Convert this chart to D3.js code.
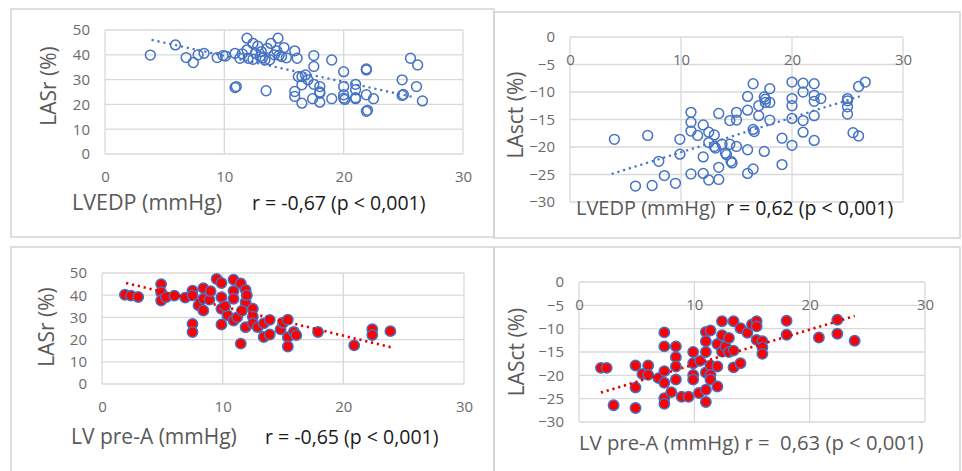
<!DOCTYPE html>
<html>
<head>
<meta charset="utf-8">
<script src="https://cdn.jsdelivr.net/npm/d3@7"></script>
<style>
  body { margin: 0; background: #fff; }
  svg { display: block; }
  text { font-family: "Open Sans", sans-serif; white-space: pre; }
</style>
</head>
<body>
<svg id="fig" width="962" height="471"></svg>
<script>
// ---- data ----
// top left: LVEDP vs LASr
var lvedpA = [3.8, 5.9, 6.8, 7.4, 7.8, 8.3, 9.4, 9.9, 10.1, 10.9,
              10.9, 11.0, 11.3, 11.5, 11.9, 11.9, 12.0, 12.4, 12.4, 12.6,
              12.8, 13.0, 13.1, 13.2, 13.4, 13.5, 13.6, 13.8, 13.9, 14.2,
              14.4, 14.5, 14.6, 14.8, 15.0, 15.2, 15.9, 15.9, 15.9, 16.1,
              16.2, 16.5, 16.5, 16.5, 16.8, 17.0, 17.4, 17.5, 17.5, 17.5,
              18.0, 18.0, 18.0, 18.0, 19.0, 19.0, 20.0, 20.0, 20.0, 20.0,
              20.1, 21.0, 21.0, 21.0, 21.0, 21.9, 21.9, 21.9, 21.9, 22.0,
              22.5, 24.9, 24.9, 25.0, 25.6, 26.2, 26.1, 26.6];
var lasrA  = [39.9, 44.0, 38.9, 36.9, 40.0, 40.6, 38.9, 39.7, 39.5, 40.6,
              26.8, 27.2, 38.6, 40.4, 46.7, 42.0, 38.6, 44.6, 38.2, 40.6,
              43.5, 39.3, 41.3, 38.8, 37.9, 25.5, 42.6, 38.0, 44.6, 40.0,
              41.6, 46.7, 39.8, 39.3, 42.9, 38.8, 41.6, 25.2, 23.2, 38.6,
              31.2, 27.9, 31.2, 20.5, 31.9, 29.9, 22.3, 39.7, 35.3, 28.1,
              27.2, 24.5, 25.0, 20.9, 37.9, 22.3, 33.2, 27.2, 22.5, 23.9,
              22.0, 28.1, 25.9, 22.3, 22.7, 33.9, 34.3, 23.9, 17.2, 17.6,
              22.3, 29.9, 23.6, 24.0, 38.6, 35.9, 27.2, 21.4];

// top right: LVEDP vs LAsct
var lvedpB = [4.0, 7.0, 8.0, 8.5, 5.9, 7.4, 9.5, 9.9, 9.9, 10.9,
              10.9, 10.9, 10.9, 11.5, 12.0, 12.0, 12.0, 12.5, 12.5, 12.5,
              13.0, 13.0, 13.1, 13.4, 13.4, 13.4, 13.7, 14.0, 14.1, 14.4,
              14.5, 14.6, 14.4, 15.0, 15.0, 15.0, 16.0, 16.0, 16.0, 16.0,
              16.5, 16.5, 16.6, 16.5, 17.0, 17.0, 17.5, 17.6, 17.5, 17.6,
              18.0, 18.0, 18.0, 19.1, 19.1, 20.0, 20.0, 20.0, 20.0, 20.0,
              21.0, 21.0, 21.0, 21.0, 22.0, 22.0, 22.0, 22.0, 22.0, 22.6,
              25.0, 25.0, 25.0, 25.0, 25.5, 26.0, 26.0, 26.6];
var lasctB = [-18.6, -17.9, -22.6, -25.2, -27.1, -27.0, -26.6, -18.6, -21.3, -13.7,
              -15.5, -17.1, -24.9, -17.9, -16.0, -21.8, -24.8, -17.3, -26.0, -19.2,
              -17.8, -19.9, -20.2, -13.9, -23.7, -25.9, -19.5, -21.1, -21.4, -15.2,
              -22.6, -22.9, -19.5, -13.7, -15.1, -19.9, -10.8, -13.3, -20.5, -24.8,
              -8.5, -16.8, -17.2, -24.0, -12.5, -14.3, -10.9, -11.3, -20.8, -11.9,
              -9.4, -11.9, -15.1, -18.4, -23.2, -8.2, -11.2, -12.5, -14.8, -19.7,
              -8.4, -10.0, -15.2, -17.3, -8.5, -10.6, -11.7, -14.3, -18.8, -11.2,
              -11.2, -11.6, -12.7, -14.0, -17.4, -18.0, -9.0, -8.2];

// bottom left: LV pre-A vs LASr
var preAC = [1.9, 2.4, 3.0, 4.9, 4.9, 4.9, 5.3, 6.0, 6.9, 7.5,
             7.5, 7.5, 7.5, 8.0, 8.4, 8.4, 8.4, 8.9, 9.0, 9.5,
             9.9, 9.9, 9.9, 9.9, 10.4, 10.9, 10.9, 10.9, 10.9, 11.2,
             11.5, 11.5, 11.9, 11.9, 11.9, 11.6, 12.5, 12.5, 12.5, 12.9,
             13.4, 13.4, 13.9, 13.9, 14.8, 15.0, 15.4, 15.4, 15.4, 15.9,
             16.1, 17.9, 20.9, 22.4, 22.4, 23.9, 10.2, 12.0];
var lasrC = [40.2, 39.8, 39.2, 45.0, 41.3, 37.6, 39.1, 39.8, 38.9, 42.0,
             39.9, 27.1, 23.4, 35.4, 43.2, 38.4, 33.1, 38.0, 41.8, 47.3,
             45.5, 39.1, 33.9, 26.8, 31.0, 47.0, 41.9, 38.4, 28.6, 30.0,
             45.3, 18.2, 42.4, 36.8, 25.6, 33.0, 33.9, 30.3, 27.3, 25.6,
             27.3, 21.2, 28.9, 22.3, 24.6, 27.6, 29.0, 21.1, 16.9, 23.5,
             22.0, 23.4, 17.4, 24.7, 22.1, 23.8, 35.0, 40.0];

// bottom right: LV pre-A vs LASct
var preAD = [1.9, 2.4, 3.0, 4.9, 4.9, 4.9, 5.5, 6.0, 6.0, 6.9,
             7.4, 7.4, 7.4, 7.4, 7.4, 7.4, 8.0, 8.4, 8.4, 8.4,
             8.4, 8.9, 9.5, 9.9, 9.9, 9.9, 9.9, 10.4, 10.5, 11.0,
             11.0, 11.0, 11.0, 11.0, 11.0, 11.4, 11.4, 11.4, 11.4, 12.0,
             12.0, 12.0, 12.4, 12.4, 12.4, 12.7, 13.0, 13.0, 13.4, 13.4,
             13.4, 14.0, 14.0, 14.6, 15.0, 15.4, 15.4, 15.4, 15.9, 15.9,
             15.9, 18.0, 18.0, 20.8, 22.4, 22.4, 23.9];
var lasctD = [-18.4, -18.4, -26.4, -17.9, -22.6, -27.0, -19.7, -17.9, -19.9, -20.6,
              -10.8, -13.8, -19.1, -21.6, -24.9, -26.1, -23.6, -13.8, -16.1, -18.1,
              -20.9, -24.6, -24.6, -15.0, -17.4, -19.9, -20.9, -23.8, -16.9, -10.7,
              -12.7, -15.0, -19.4, -23.1, -25.7, -10.4, -17.9, -19.9, -20.9, -13.3,
              -18.1, -22.4, -8.4, -11.4, -14.9, -13.8, -12.0, -15.0, -8.4, -14.7,
              -18.3, -9.9, -17.4, -10.9, -9.1, -8.4, -9.5, -12.4, -12.7, -14.0,
              -15.4, -8.3, -11.3, -11.9, -8.1, -11.1, -12.6];

// linear trend lines, end points as drawn by excel
var trendA = [[3.9, 46.0], [25.8, 23.0]];
var trendB = [[3.75, -24.9], [26.1, -10.8]];
var trendC = [[2.0, 45.5], [24.0, 16.5]];
var trendD = [[1.9, -23.7], [23.9, -7.3]];

var xTicks = [0, 10, 20, 30];
var lasrTicks = [0, 10, 20, 30, 40, 50];
var lasctTicks = [0, -5, -10, -15, -20, -25, -30];

var blue = "#4472c4", grid = "#d9d9d9", grey = "#595959";

var panels = [
  { box: [11, 9, 483, 228], plot: [105, 463, 30, 154], xs: lvedpA, ys: lasrA, trend: trendA,
    yDomain: [0, 50], yTicks: lasrTicks, filled: false, fs: 21.5,
    yTitle: "LASr (%)", yTitlePos: [49, 86],
    xTitle: "LVEDP (mmHg)", xTitlePos: [72, 210], rText: "r = -0,67 (p < 0,001)", rPos: [252, 210] },
  { box: [494, 12, 466, 226], plot: [570, 903, 37, 202], xs: lvedpB, ys: lasctB, trend: trendB,
    yDomain: [-30, 0], yTicks: lasctTicks, filled: false, fs: 20,
    yTitle: "LAsct (%)", yTitlePos: [516, 115],
    xTitle: "LVEDP (mmHg)", xTitlePos: [576, 215], rText: "r = 0,62 (p < 0,001)", rPos: [726, 215] },
  { box: [11, 247, 483, 226], plot: [102, 464, 273, 384], xs: preAC, ys: lasrC, trend: trendC,
    yDomain: [0, 50], yTicks: lasrTicks, filled: true, fs: 21,
    yTitle: "LASr (%)", yTitlePos: [47, 327],
    xTitle: "LV pre-A (mmHg)", xTitlePos: [71, 444], rText: "r = -0,65 (p < 0,001)", rPos: [265, 444] },
  { box: [494, 247, 466, 226], plot: [579, 925, 282, 422], xs: preAD, ys: lasctD, trend: trendD,
    yDomain: [-30, 0], yTicks: lasctTicks, filled: true, fs: 20.3,
    yTitle: "LASct (%)", yTitlePos: [517, 352],
    xTitle: "LV pre-A (mmHg) r =  0,63 (p < 0,001)", xTitlePos: [579, 450], rText: null }
];

var svg = d3.select("#fig");

panels.forEach(function(p) { drawPanel(p); });

function drawPanel(p)
{
    var g = svg.append("g");

    // outer frame of the sub figure
    g.append("rect")
        .attr("x", p.box[0]).attr("y", p.box[1])
        .attr("width", p.box[2]).attr("height", p.box[3])
        .attr("fill", "none").attr("stroke", "#d4d4d4").attr("stroke-width", 1.5);

    var x = d3.scaleLinear().domain([0, 30]).range([p.plot[0], p.plot[1]]);
    var y = d3.scaleLinear().domain(p.yDomain).range([p.plot[3], p.plot[2]]);

    // grid
    g.selectAll(".hgrid").data(p.yTicks).enter().append("line")
        .attr("x1", x(0)).attr("x2", x(30))
        .attr("y1", function(d) { return y(d); }).attr("y2", function(d) { return y(d); })
        .attr("stroke", grid).attr("stroke-width", 1.3);
    g.selectAll(".vgrid").data(xTicks).enter().append("line")
        .attr("x1", function(d) { return x(d); }).attr("x2", function(d) { return x(d); })
        .attr("y1", y(p.yDomain[0])).attr("y2", y(p.yDomain[1]))
        .attr("stroke", grid).attr("stroke-width", 1.3);

    // axes, labels only (x axis crosses at y = 0)
    var xa = g.append("g")
        .attr("transform", "translate(0," + y(0) + ")")
        .call(d3.axisBottom(x).tickValues(xTicks).tickSize(0).tickPadding(17));
    var ya = g.append("g")
        .attr("transform", "translate(" + x(0) + ",0)")
        .call(d3.axisLeft(y).tickValues(p.yTicks).tickSize(0).tickPadding(15));
    [xa, ya].forEach(function(a) {
        a.select(".domain").remove();
        a.selectAll("text").attr("fill", "#6b6b6b").style("font-size", "15px")
            .style("font-family", "'Open Sans', sans-serif");
    });

    // points
    var pts = p.xs.map(function(v, i) { return [v, p.ys[i]]; });
    g.selectAll(".pt").data(pts).enter().append("circle")
        .attr("cx", function(d) { return x(d[0]); })
        .attr("cy", function(d) { return y(d[1]); })
        .attr("r", p.filled ? 5.2 : 4.9)
        .attr("fill", p.filled ? "#ff0000" : "none")
        .attr("stroke", blue)
        .attr("stroke-width", 1.5);

    // dotted trend line
    g.append("path")
        .datum(p.trend)
        .attr("d", d3.line().x(function(d) { return x(d[0]); }).y(function(d) { return y(d[1]); }))
        .attr("fill", "none")
        .attr("stroke", p.filled ? "#e00000" : blue)
        .attr("stroke-width", p.filled ? 2.6 : 2.2)
        .attr("stroke-dasharray", "2.2,3.8");

    // titles
    g.append("text")
        .attr("transform", "translate(" + p.yTitlePos[0] + "," + p.yTitlePos[1] + ") rotate(-90)")
        .attr("text-anchor", "middle").attr("dy", "0.35em")
        .attr("fill", grey).style("font-size", "21px")
        .text(p.yTitle);
    g.append("text")
        .attr("x", p.xTitlePos[0]).attr("y", p.xTitlePos[1])
        .attr("fill", grey).style("font-size", p.fs + "px")
        .text(p.xTitle);
    if (p.rText)
        g.append("text")
            .attr("x", p.rPos[0]).attr("y", p.rPos[1])
            .attr("fill", "#1a1a1a").style("font-size", "19.5px")
            .text(p.rText);
}
</script>
</body>
</html>
